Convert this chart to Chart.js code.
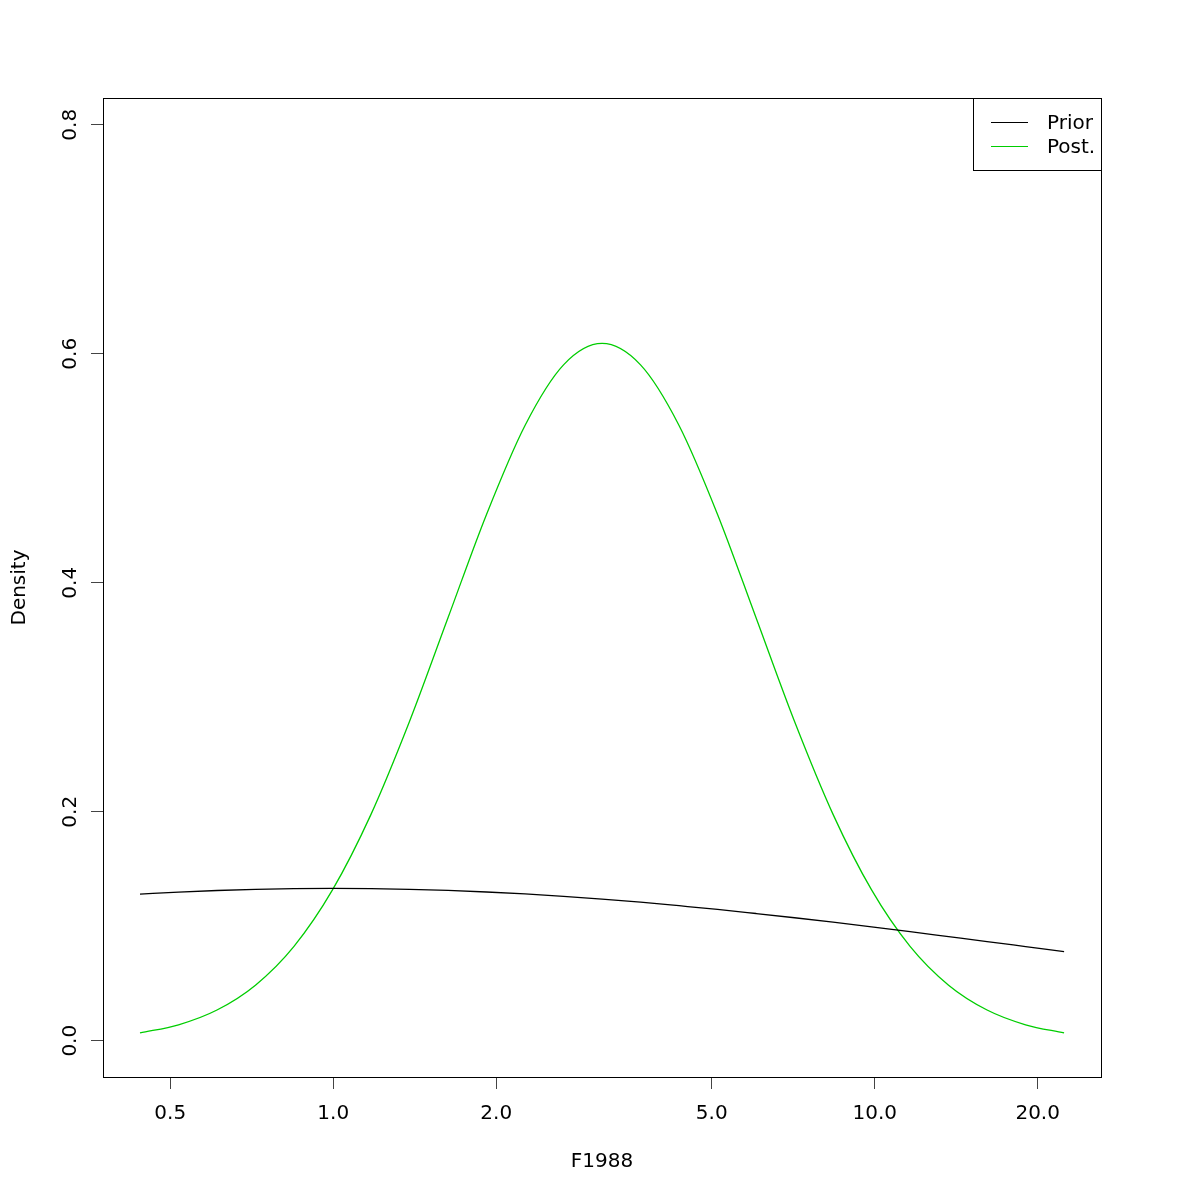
<!DOCTYPE html>
<html>
<head>
<meta charset="utf-8">
<title>F1988 density</title>
<script src="https://cdn.jsdelivr.net/npm/chart.js@4.4.1/dist/chart.umd.min.js"></script>
<style>
    body { margin: 0; background: #fff; }
    #chart { display: block; }
</style>
</head>
<body>
<canvas id="chart" width="1200" height="1200"></canvas>
<script>
// values (x on a log scale)
const f1988 = [0.4396, 0.5179, 0.6099, 0.7183, 0.8462, 0.9967, 1.1741, 1.3829, 1.629,
    1.9189, 2.2603, 2.6626, 3.1361, 3.6943, 4.3516, 5.1259, 6.0377, 7.1119, 8.3771,
    9.8683, 11.623, 13.692, 16.127, 18.998, 22.376];
const prior = [0.1281, 0.1298, 0.1312, 0.1322, 0.1328, 0.1330, 0.1328, 0.1322, 0.1313,
    0.1299, 0.1282, 0.1261, 0.1237, 0.1210, 0.1179, 0.1147, 0.1111, 0.1074, 0.1035,
    0.0994, 0.0952, 0.0909, 0.0866, 0.0822, 0.0778];
const posterior = [0.0068, 0.0139, 0.0268, 0.0485, 0.0824, 0.1317, 0.1977, 0.2788, 0.3694,
    0.4597, 0.5374, 0.5903, 0.6090, 0.5903, 0.5374, 0.4597, 0.3694, 0.2788, 0.1977,
    0.1317, 0.0824, 0.0485, 0.0268, 0.0139, 0.0068];

const xTicks = [0.5, 1, 2, 5, 10, 20];
const xTickLabels = ['0.5', '1.0', '2.0', '5.0', '10.0', '20.0'];
const yTicks = [0, 0.2, 0.4, 0.6, 0.8];
const yTickLabels = ['0.0', '0.2', '0.4', '0.6', '0.8'];
const seriesNames = ['Prior', 'Post.'];
const seriesColors = ['#000000', '#00CD00'];

Chart.defaults.font.family = '"DejaVu Sans", sans-serif';
Chart.defaults.font.size = 20;
Chart.defaults.color = '#000';

// box, rotated y labels and legend the way R draws them
const rFrame = {
    id: 'rFrame',
    afterDraw(chart) {
        const ctx = chart.ctx;
        const area = chart.chartArea;
        const yScale = chart.scales.y;

        ctx.save();
        ctx.strokeStyle = '#000';
        ctx.lineWidth = 1;
        ctx.strokeRect(Math.round(area.left) + 0.5, Math.round(area.top) + 0.5,
            Math.round(area.right - area.left), Math.round(area.bottom - area.top));

        ctx.font = '20px "DejaVu Sans", sans-serif';
        ctx.fillStyle = '#000';
        ctx.textAlign = 'center';
        ctx.textBaseline = 'alphabetic';
        yTicks.forEach((v, i) => {
            const py = yScale.getPixelForValue(v);
            ctx.save();
            ctx.translate(76, py);
            ctx.rotate(-Math.PI / 2);
            ctx.fillText(yTickLabels[i], 0, 0);
            ctx.restore();
        });

        // legend
        const boxLeft = 973.5, boxTop = Math.round(area.top) + 0.5;
        const boxRight = Math.round(area.right) + 0.5, boxBottom = 170.5;
        ctx.strokeStyle = '#000';
        ctx.strokeRect(boxLeft, boxTop, boxRight - boxLeft, boxBottom - boxTop);
        ctx.textAlign = 'left';
        chart.data.datasets.forEach((ds, i) => {
            const ly = 122 + i * 24;
            ctx.strokeStyle = ds.borderColor;
            ctx.lineWidth = 1;
            ctx.beginPath();
            ctx.moveTo(991, ly + 0.5);
            ctx.lineTo(1028, ly + 0.5);
            ctx.stroke();
            ctx.fillText(ds.label, 1047, ly + 7);
        });
        ctx.restore();
    }
};

new Chart(document.getElementById('chart'), {
    type: 'line',
    data: {
        datasets: [
            {
                label: seriesNames[0],
                data: f1988.map((x, i) => ({ x: x, y: prior[i] })),
                borderColor: seriesColors[0],
                borderWidth: 1.3,
                pointRadius: 0,
                cubicInterpolationMode: 'monotone',
                fill: false
            },
            {
                label: seriesNames[1],
                data: f1988.map((x, i) => ({ x: x, y: posterior[i] })),
                borderColor: seriesColors[1],
                borderWidth: 1.3,
                pointRadius: 0,
                cubicInterpolationMode: 'monotone',
                fill: false
            }
        ]
    },
    options: {
        responsive: false,
        animation: false,
        events: [],
        layout: { padding: { left: 0, top: 98, right: 99, bottom: 0 } },
        plugins: {
            legend: { display: false },
            tooltip: { enabled: false }
        },
        scales: {
            x: {
                type: 'logarithmic',
                position: 'bottom',
                min: 0.3756,
                max: 26.18,
                bounds: 'data',
                border: { display: false },
                grid: { drawOnChartArea: false, drawTicks: true, tickLength: 12, color: '#444', lineWidth: 1 },
                ticks: {
                    autoSkip: false,
                    maxRotation: 0,
                    padding: 13,
                    callback: (value) => xTickLabels[xTicks.indexOf(value)]
                },
                afterBuildTicks: (scale) => { scale.ticks = xTicks.map(v => ({ value: v })); },
                afterFit: (scale) => { scale.height = 123; },
                title: { display: true, text: 'F1988', padding: { top: 0, bottom: 26 } }
            },
            y: {
                type: 'linear',
                position: 'left',
                min: -0.0317,
                max: 0.8234,
                bounds: 'data',
                border: { display: false },
                grid: { drawOnChartArea: false, drawTicks: true, tickLength: 12, color: '#444', lineWidth: 1 },
                ticks: { display: false },
                afterBuildTicks: (scale) => { scale.ticks = yTicks.map(v => ({ value: v })); },
                afterFit: (scale) => { scale.width = 103; },
                title: { display: true, text: 'Density', padding: { top: 8, bottom: 0 } }
            }
        }
    },
    plugins: [rFrame]
});
</script>
</body>
</html>
